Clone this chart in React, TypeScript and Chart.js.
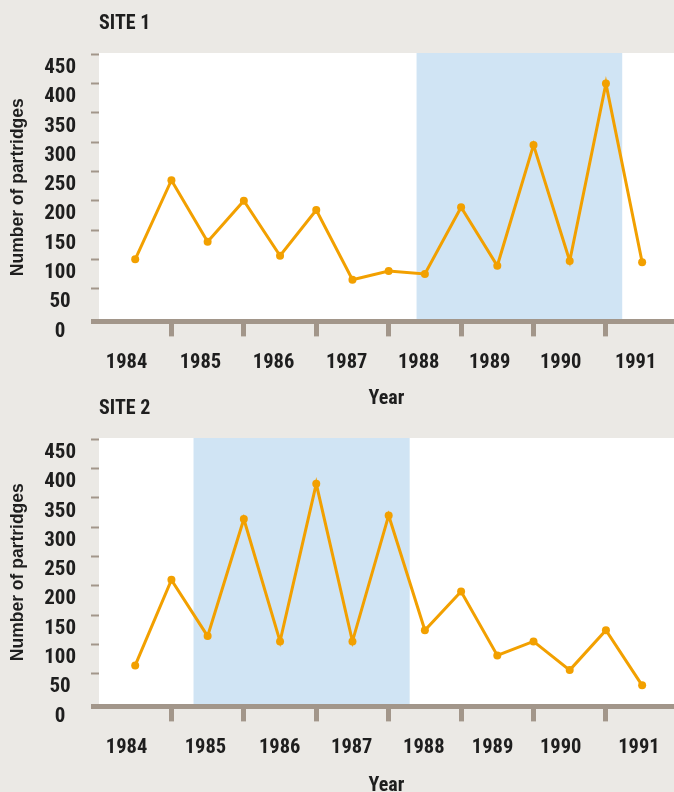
import React, { useEffect, useRef } from "react";
import { Chart, registerables } from "chart.js";

Chart.register(...registerables);

// ---- data ----
const YEARS = ["1984", "1985", "1986", "1987", "1988", "1989", "1990", "1991"];
// half-yearly partridge counts (sample index 0..14)
const SITE1_COUNTS = [100, 235, 130, 200, 106, 184, 65, 80, 75, 189, 89, 295, 97, 400, 95];
const SITE2_COUNTS = [64, 210, 114, 314, 105, 374, 105, 320, 124, 190, 81, 105, 56, 124, 30];
const Y_TICKS = [0, 50, 100, 150, 200, 250, 300, 350, 400, 450];
const YEAR_TICK_MARKS = [1, 3, 5, 7, 9, 11, 13];
const SITE1_LABEL_POS = [-0.24, 1.8, 3.82, 5.84, 7.83, 9.79, 11.75, 13.82];
const SITE2_LABEL_POS = [-0.24, 1.94, 3.99, 5.98, 7.97, 9.87, 11.75, 13.91];
const SITE1_SHADE = { from: 7.77, to: 13.45 };
const SITE2_SHADE = { from: 1.61, to: 7.58 };

// ---- style ----
const BG = "#ebe9e5";
const AXIS = "#a2968a";
const ORANGE = "#f2a000";
const BLUE = "#d0e4f4";
const TEXT = "#1e1e1e";
const SANS = '"Liberation Sans", Arial, sans-serif';
const COND = 'Roboto, "DejaVu Sans Condensed", sans-serif';
const COND_W = "bold condensed";
const Y_BOTTOM = -6;
const Y_TOP = 452.2;
const X_MIN = -1;
const X_MAX = 14.88;

const shadePlugin = {
  id: "shade",
  beforeDraw(chart: any, _args: any, opts: any) {
    const { ctx, chartArea: a, scales } = chart;
    ctx.save();
    ctx.fillStyle = "#ffffff";
    ctx.fillRect(a.left, a.top, a.right - a.left, a.bottom - a.top);
    const x0 = scales.x.getPixelForValue(opts.from);
    const x1 = scales.x.getPixelForValue(opts.to);
    ctx.fillStyle = BLUE;
    ctx.fillRect(x0, a.top, x1 - x0, a.bottom - a.top);
    ctx.restore();
  },
};

type Props = {
  title: string;
  counts: number[];
  labelPos: number[];
  shade: { from: number; to: number };
  top: number;
  height: number;
  bottomBlock: number;
};

function SiteChart(props: Props) {
  const ref = useRef<HTMLCanvasElement | null>(null);
  useEffect(() => {
    if (!ref.current) return;
    const { title, counts, labelPos, shade, bottomBlock } = props;
    const chart = new Chart(ref.current, {
      type: "line",
      data: {
        datasets: [
          {
            data: counts.map((v, i) => ({ x: i, y: v })),
            borderColor: ORANGE,
            backgroundColor: ORANGE,
            borderWidth: 3,
            pointRadius: 4,
            pointBackgroundColor: ORANGE,
            pointBorderWidth: 0,
            tension: 0,
            clip: false as any,
          },
        ],
      },
      options: {
        animation: false,
        responsive: false,
        events: [],
        layout: { padding: 0, autoPadding: false },
        plugins: {
          legend: { display: false },
          tooltip: { enabled: false },
          title: {
            display: true,
            text: title,
            align: "start",
            position: "top",
            fullSize: false,
            color: TEXT,
            font: { family: COND, size: 20, weight: COND_W },
            padding: { top: 12, bottom: 17 },
          },
          shade: shade,
        } as any,
        scales: {
          x: {
            type: "linear",
            position: "bottom",
            weight: 0,
            min: X_MIN,
            max: X_MAX,
            afterBuildTicks: (s: any) => {
              s.ticks = YEAR_TICK_MARKS.map((v) => ({ value: v }));
            },
            afterFit: (s: any) => {
              s.paddingLeft = 0;
              s.paddingRight = 0;
              s.height = 15;
            },
            ticks: { display: false },
            grid: { drawOnChartArea: false, drawTicks: true, tickLength: 15, tickWidth: 5, tickColor: AXIS },
            border: { display: true, width: 5, color: AXIS },
          },
          xl: {
            type: "linear",
            position: "bottom",
            weight: 1,
            min: X_MIN,
            max: X_MAX,
            afterBuildTicks: (s: any) => {
              s.ticks = labelPos.map((v) => ({ value: v }));
            },
            afterFit: (s: any) => {
              s.paddingLeft = 0;
              s.paddingRight = 0;
              s.height = bottomBlock;
            },
            ticks: {
              autoSkip: false,
              maxRotation: 0,
              minRotation: 0,
              padding: 6,
              color: TEXT,
              font: { family: COND, size: 20.5, weight: COND_W },
              callback: (_v: any, i: number) => YEARS[i],
            },
            grid: { display: false },
            border: { display: false },
            title: {
              display: true,
              text: "Year",
              color: TEXT,
              font: { family: COND, size: 20, weight: COND_W },
              padding: { top: 13, bottom: 0 },
            },
          },
          y: {
            type: "linear",
            position: "left",
            min: Y_BOTTOM,
            max: Y_TOP,
            afterBuildTicks: (s: any) => {
              s.ticks = [Y_BOTTOM, ...Y_TICKS].map((v) => ({ value: v }));
            },
            afterFit: (s: any) => {
              s.width = 99;
              s.paddingTop = 0;
              s.paddingBottom = 0;
            },
            ticks: {
              autoSkip: false,
              crossAlign: "center",
              padding: 15,
              labelOffset: 13.5,
              color: TEXT,
              font: { family: COND, size: 21, weight: COND_W },
              callback: (v: any) => (v === Y_BOTTOM ? "" : String(v)),
            },
            grid: {
              drawOnChartArea: false,
              drawTicks: true,
              tickLength: 8,
              tickWidth: (c: any) => (c.tick && c.tick.value === Y_BOTTOM ? 5 : 2),
              tickColor: (c: any) => (c.tick && c.tick.value === 0 ? "rgba(0,0,0,0)" : AXIS),
            },
            border: { display: false },
            title: {
              display: true,
              text: "Number of partridges",
              color: TEXT,
              font: { family: SANS, size: 17.5, weight: "bold" },
              padding: { top: 8, bottom: 0 },
            },
          },
        } as any,
      },
      plugins: [shadePlugin as any],
    });
    return () => chart.destroy();
  }, []);
  return (
    <canvas
      ref={ref}
      width={674}
      height={props.height}
      style={{ position: "absolute", left: 0, top: props.top, width: 674, height: props.height }}
    />
  );
}

export default function App() {
  return (
    <div
      style={{
        position: "absolute",
        left: 0,
        top: 0,
        width: 674,
        height: 792,
        background: BG,
        overflow: "hidden",
      }}
    >
      <SiteChart
        title="SITE 1"
        counts={SITE1_COUNTS}
        labelPos={SITE1_LABEL_POS}
        shade={SITE1_SHADE}
        top={0}
        height={411}
        bottomBlock={74.6}
      />
      <SiteChart
        title="SITE 2"
        counts={SITE2_COUNTS}
        labelPos={SITE2_LABEL_POS}
        shade={SITE2_SHADE}
        top={385}
        height={413}
        bottomBlock={76.6}
      />
    </div>
  );
}
